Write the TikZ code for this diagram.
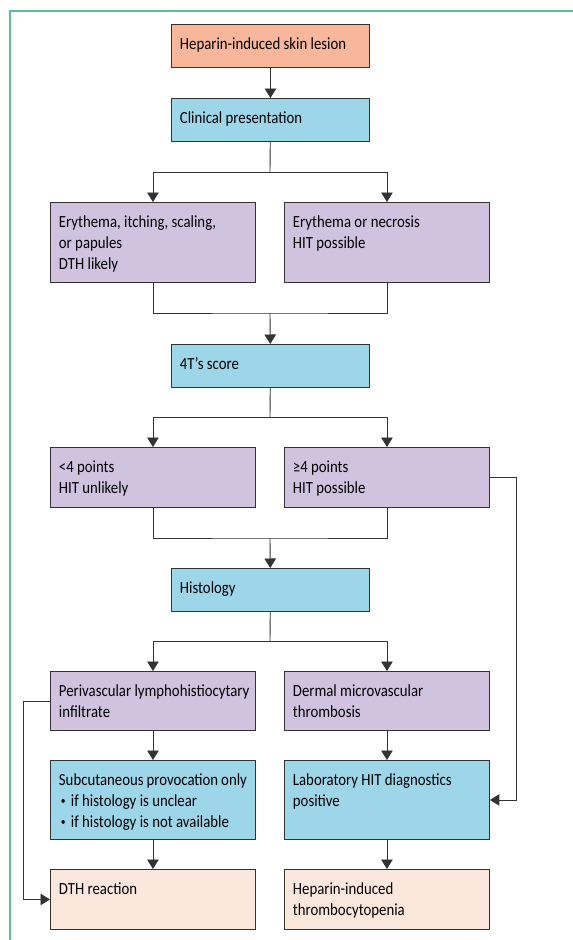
\documentclass[tikz,border=0pt]{standalone}
\usepackage{fontspec}
\setmainfont{Carlito}[FakeStretch=0.87]
\usepackage{xcolor}
\usepackage{tikz}
\usetikzlibrary{arrows.meta,positioning}
\definecolor{frameG}{HTML}{64B894}
\definecolor{edgeC}{HTML}{333333}
\definecolor{headC}{HTML}{F8B69B}
\definecolor{stepC}{HTML}{9ED6E9}
\definecolor{findC}{HTML}{D1C3E0}
\definecolor{endC}{HTML}{FCE7DD}
\newcommand{\cellbox}[3]{\parbox[c][#1][t]{#2}{\raggedright\rule{0pt}{25pt}#3}}
\newcommand{\itm}{\makebox[12pt][l]{\hspace{2pt}\raisebox{1.5pt}{\fontsize{11}{11}\selectfont\textbullet}}}
\tikzset{
  flowbox/.style={draw=edgeC, line width=0.9pt, anchor=north west,
    inner xsep=8.5pt, inner ysep=0pt, font={\fontsize{17}{21}\selectfont}},
  link/.style={draw=edgeC, line width=0.9pt},
  arr/.style={link, -{Triangle[length=9.5pt,width=11.5pt]}}
}

\begin{document}
\begin{tikzpicture}[x=1pt,y=1pt]
  \def\wc{188pt}  % text width, side columns
  \def\wm{181pt}  % text width, middle column
  \useasboundingbox (0,0) rectangle (573,-940);

  % Frame
  \draw[frameG, line width=1.2pt] (10,-940) -- (10,-11) -- (573,-11);

  % Middle column
  \node[flowbox, fill=headC] (lesion) at (171,-24) {\cellbox{43pt}{\wm}{Heparin-induced skin lesion}};
  \node[flowbox, fill=stepC] (clin) at (171,-98) {\cellbox{43pt}{\wm}{Clinical presentation}};
  \node[flowbox, fill=stepC] (score) at (171,-344) {\cellbox{43pt}{\wm}{4T’s score}};
  \node[flowbox, fill=stepC] (histo) at (171,-568) {\cellbox{43pt}{\wm}{Histology}};

  % Left column
  \node[flowbox, fill=findC] (ery) at (50,-202) {\cellbox{80pt}{\wc}{Erythema, itching, scaling,\\or papules\\DTH likely}};
  \node[flowbox, fill=findC] (low) at (50,-447) {\cellbox{60pt}{\wc}{<4 points\\HIT unlikely}};
  \node[flowbox, fill=findC] (peri) at (50,-671) {\cellbox{59pt}{\wc}{\mbox{Perivascular lymphohistiocytary}\\infiltrate}};
  \node[flowbox, fill=stepC] (provo) at (50,-760) {\cellbox{79pt}{\wc}{Subcutaneous provocation only\\\itm if histology is unclear\\\itm if histology is not available}};
  \node[flowbox, fill=endC] (dth) at (50,-869) {\cellbox{60pt}{\wc}{DTH reaction}};

  % Right column
  \node[flowbox, fill=findC] (nec) at (284,-202) {\cellbox{80pt}{\wc}{Erythema or necrosis\\HIT possible}};
  \node[flowbox, fill=findC] (high) at (284,-447) {\cellbox{60pt}{\wc}{≥4 points\\HIT possible}};
  \node[flowbox, fill=findC] (thromb) at (284,-671) {\cellbox{59pt}{\wc}{Dermal microvascular\\thrombosis}};
  \node[flowbox, fill=stepC] (lab) at (284,-760) {\cellbox{79pt}{\wc}{Laboratory HIT diagnostics\\positive}};
  \node[flowbox, fill=endC] (hitd) at (284,-869) {\cellbox{60pt}{\wc}{Heparin-induced\\thrombocytopenia}};

  % Split and merge points
  \coordinate (s1) at (270,-172);
  \coordinate (m1) at (270,-313);
  \coordinate (s2) at (270,-417);
  \coordinate (m2) at (270,-538);
  \coordinate (s3) at (270,-641);

  % Connectors
  \draw[arr] (lesion) -- (clin);
  \draw[link] (clin) -- (s1);
  \draw[arr] (s1) -| (ery);
  \draw[arr] (s1) -| (nec);
  \draw[link] (ery) |- (m1) -| (nec);
  \draw[arr] (m1) -- (score);
  \draw[link] (score) -- (s2);
  \draw[arr] (s2) -| (low);
  \draw[arr] (s2) -| (high);
  \draw[link] (low) |- (m2) -| (high);
  \draw[arr] (m2) -- (histo);
  \draw[link] (histo) -- (s3);
  \draw[arr] (s3) -| (peri);
  \draw[arr] (s3) -| (thromb);
  \draw[arr] (peri) -- (provo);
  \draw[arr] (provo) -- (dth);
  \draw[arr] (thromb) -- (lab);
  \draw[arr] (lab) -- (hitd);

  % Side loops
  \draw[arr] (high.east) -- ++(27,0) |- (lab.east);
  \draw[arr] (peri.west) -- ++(-27,0) |- (dth.west);
\end{tikzpicture}
\end{document}
